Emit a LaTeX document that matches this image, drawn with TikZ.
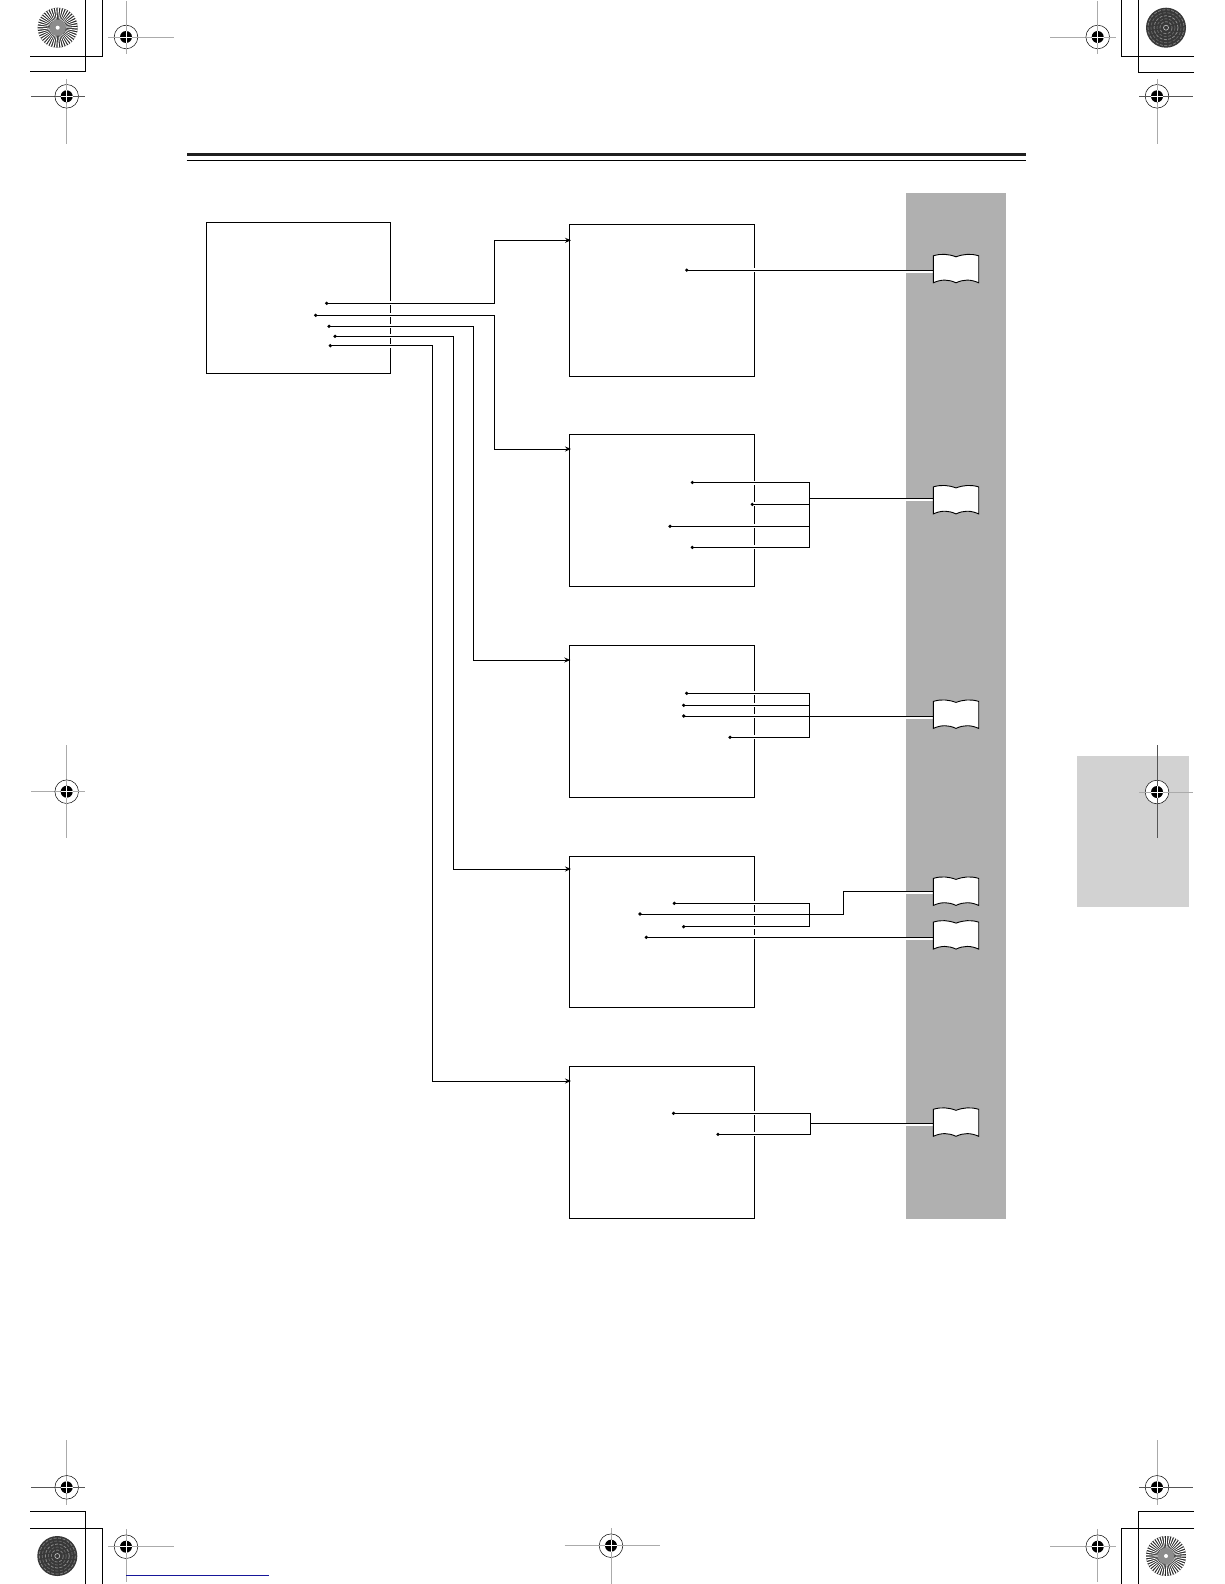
\documentclass[tikz,border=0pt]{standalone}
\usetikzlibrary{arrows.meta}
\definecolor{panelgray}{HTML}{B0B0B0}
\definecolor{tabgray}{HTML}{D2D2D2}
\definecolor{regdark}{HTML}{555555}
\definecolor{reglight}{HTML}{ABABAB}
\definecolor{linkblue}{HTML}{16169A}
\tikzset{
  bx/.style={draw=black,line width=0.9pt,fill=none,rectangle,inner sep=0pt,outer sep=0pt,anchor=north west,minimum width=#1},
  bx/.default=185pt,
  wire/.style={draw=black,line width=1pt,line join=miter},
  arrowwire/.style={wire,-{Stealth[length=6pt,width=5pt,inset=2pt]}},
  halo/.style={draw=white,line width=4pt},
  panelhalo/.style={draw=white,line width=2pt},
  dotn/.style={circle,fill=black,inner sep=0pt,minimum size=3.6pt,outer sep=0pt},
  crop/.style={draw=black,line width=1pt},
  bookp/.pic={
    \path[draw=black,fill=white,line width=0.9pt]
      (0,-13.4) .. controls (8,-15.8) and (15,-15.2) .. (22.7,-12.4)
      .. controls (30.4,-15.2) and (37.4,-15.8) .. (45.4,-13.4) -- (45.4,13.6)
      .. controls (37.4,10) and (30.4,10) .. (22.7,13.6)
      .. controls (15,10) and (8,10) .. (0,13.6) -- cycle;
  }
}
% registration mark: x y hleft hright vtop vbottom hcolor vcolor
\newcommand{\regmk}[8]{%
  \draw[#7,line width=0.9pt] (#3,#2) -- (#4,#2);
  \draw[#8,line width=0.9pt] (#1,#5) -- (#1,#6);
  \draw[black,line width=0.5pt,fill=white] (#1,#2) circle[radius=11.8];
  \draw[#7,line width=0.9pt] (#1-11.8,#2) -- (#1+11.8,#2);
  \draw[#8,line width=0.9pt] (#1,#2-11.8) -- (#1,#2+11.8);
  \fill[black] (#1,#2) circle[radius=6];
  \draw[white,line width=0.8pt] (#1-6,#2) -- (#1+6,#2) (#1,#2-6) -- (#1,#2+6);
}
\newcommand{\burst}[2]{%
  \begin{scope}[shift={(#1,#2)}]
    \fill[black!85] (0,0) circle[radius=20];
    \foreach \a in {0,8,...,352}{\fill[white] (\a:4) -- (\a-2:20) arc[start angle=\a-2,end angle=\a+2,radius=20] -- cycle;}
    \fill[black!45] (0,0) circle[radius=8];
    \fill[white] (0,0) circle[radius=2];
  \end{scope}}
\newcommand{\rings}[2]{%
  \begin{scope}[shift={(#1,#2)}]
    \fill[black!78] (0,0) circle[radius=20];
    \foreach \r/\g in {18/50,15/60,12/45,9/60,6/50}{\draw[black!\g,line width=0.8pt,dash pattern=on 3pt off 1.5pt] (0,0) circle[radius=\r];}
    \draw[white!80!black,line width=0.6pt] (0,0) circle[radius=2.5];
  \end{scope}}
\begin{document}
\begin{tikzpicture}[x=1pt,y=-1pt]
\useasboundingbox (0,0) rectangle (1224,1584);
% header rule
\fill[black!88] (186.5,153) rectangle (1026,156);
\draw[black,line width=1pt] (186.5,160.3) -- (1026,160.3);
% side tab
\fill[tabgray] (1077,756) rectangle (1188.7,906.7);
% boxes
\node[bx=184.3pt,minimum height=151pt] (m0) at (206,222.3) {};
\node[bx,minimum height=151.5pt] (b1) at (569.3,224.7) {};
\node[bx,minimum height=151.9pt] (b2) at (569.3,434.3) {};
\node[bx,minimum height=152.1pt] (b3) at (569.3,645.2) {};
\node[bx,minimum height=151pt] (b4) at (569.3,856.4) {};
\node[bx,minimum height=152pt] (b5) at (569.3,1066) {};
% connector start points and named points
\coordinate (a1) at (326.7,303.3);
\coordinate (a2) at (315.7,315.3);
\coordinate (a3) at (329,326.3);
\coordinate (a4) at (335,336.3);
\coordinate (a5) at (330.3,345.7);
\coordinate (j1) at (494.3,303.3);
\coordinate (j2) at (494.3,315.3);
\coordinate (j3) at (473.3,326.3);
\coordinate (j4) at (453.3,336.3);
\coordinate (j5) at (432.3,345.7);
\coordinate (e1) at (571,240.3);
\coordinate (e2) at (571,449);
\coordinate (e3) at (570.3,660);
\coordinate (e4) at (571,869);
\coordinate (e5) at (571,1081);
\coordinate (c1) at (686.7,270.1);
\coordinate (c2a) at (692.3,482.5);
\coordinate (c2b) at (752.3,504.4);
\coordinate (c2c) at (670,526.3);
\coordinate (c2d) at (692.3,547.4);
\coordinate (c3a) at (686.7,693.3);
\coordinate (c3b) at (683.7,705.3);
\coordinate (c3c) at (683.7,716);
\coordinate (c3d) at (730,737.3);
\coordinate (c4a) at (674.3,903.3);
\coordinate (c4b) at (640,914);
\coordinate (c4c) at (683.7,926.7);
\coordinate (c4d) at (646.3,937.3);
\coordinate (c5a) at (673.6,1113.3);
\coordinate (c5b) at (718,1134.3);
\coordinate (k1) at (933.3,270.1);
\coordinate (k2) at (933.3,498.3);
\coordinate (k3) at (933.3,716);
\coordinate (k4) at (933.3,891.7);
\coordinate (k5) at (933.3,937.3);
\coordinate (k6) at (933.3,1123.3);
\coordinate (s2a) at (809.3,482.5);
\coordinate (s2b) at (809.3,504.4);
\coordinate (s2c) at (809.3,526.3);
\coordinate (s2d) at (809.3,547.4);
\coordinate (s2) at (809.3,498.3);
\coordinate (s3a) at (809.3,693.3);
\coordinate (s3b) at (809.3,705.3);
\coordinate (s3d) at (809.3,737.3);
\coordinate (s4a) at (809.3,903.3);
\coordinate (s4c) at (809.3,926.7);
\coordinate (t4) at (843.3,914);
\coordinate (t4u) at (843.3,891.7);
\coordinate (s5a) at (810.7,1113.3);
\coordinate (s5b) at (810.7,1134.3);
\coordinate (s5) at (810.7,1123.3);
% white gaps where wires cross the box edges
\draw[halo] (a1) -- (j1);
\draw[halo] (a2) -- (j2);
\draw[halo] (a3) -- (j3);
\draw[halo] (a4) -- (j4);
\draw[halo] (a5) -- (j5);
\draw[halo] (c1) -- (k1);
\draw[halo] (c2a) -- (s2a);
\draw[halo] (c2b) -- (s2b);
\draw[halo] (c2c) -- (s2c);
\draw[halo] (c2d) -- (s2d);
\draw[halo] (c3a) -- (s3a);
\draw[halo] (c3b) -- (s3b);
\draw[halo] (c3c) -- (k3);
\draw[halo] (c3d) -- (s3d);
\draw[halo] (c4a) -- (s4a);
\draw[halo] (c4b) -- (t4);
\draw[halo] (c4c) -- (s4c);
\draw[halo] (c4d) -- (k5);
\draw[halo] (c5a) -- (s5a);
\draw[halo] (c5b) -- (s5b);
% grey panel
\fill[panelgray] (906,193) rectangle (1006,1218.5);
\foreach \ly in {270.1,498.3,716,891.7,937.3,1123.3}{\draw[panelhalo] (906,\ly+1.6) -- (934,\ly+1.6);}
% input connectors
\draw[arrowwire] (a1) -- (j1) |- (e1);
\draw[arrowwire] (a2) -- (j2) |- (e2);
\draw[arrowwire] (a3) -- (j3) |- (e3);
\draw[arrowwire] (a4) -- (j4) |- (e4);
\draw[arrowwire] (a5) -- (j5) |- (e5);
% output connectors
\draw[wire] (c1) -- (k1);
\draw[wire] (c2a) -- (s2a) -- (s2d) -- (c2d);
\draw[wire] (c2b) -- (s2b);
\draw[wire] (c2c) -- (s2c);
\draw[wire] (s2) -- (k2);
\draw[wire] (c3a) -- (s3a) -- (s3d) -- (c3d);
\draw[wire] (c3b) -- (s3b);
\draw[wire] (c3c) -- (k3);
\draw[wire] (c4a) -- (s4a) -- (s4c) -- (c4c);
\draw[wire] (c4b) -- (t4) -- (t4u) -- (k4);
\draw[wire] (c4d) -- (k5);
\draw[wire] (c5a) -- (s5a) -- (s5b) -- (c5b);
\draw[wire] (s5) -- (k6);
% start dots
\foreach \p in {a1,a2,a3,a4,a5,c1,c2a,c2b,c2c,c2d,c3a,c3b,c3c,c3d,c4a,c4b,c4c,c4d,c5a,c5b}{\node[dotn] (dot-\p) at (\p) {};}
% book symbols
\pic at (933.3,269.2) {bookp};
\pic at (933.3,500.3) {bookp};
\pic at (933.3,714.8) {bookp};
\pic at (933.3,891.8) {bookp};
\pic at (933.3,935.5) {bookp};
\pic at (933.3,1122.7) {bookp};
% crop marks
\draw[crop] (30,72) -- (85.3,72) -- (85.3,0);
\draw[crop] (30,56.3) -- (102.3,56.3) -- (102.3,0);
\draw[crop] (1194,56.3) -- (1121.7,56.3) -- (1121.7,0);
\draw[crop] (1194,72.3) -- (1138.7,72.3) -- (1138.7,0);
\draw[crop] (30,1511.3) -- (85.3,1511.3) -- (85.3,1584);
\draw[crop] (30,1528.3) -- (102.3,1528.3) -- (102.3,1584);
\draw[crop] (1194,1511.3) -- (1138.7,1511.3) -- (1138.7,1584);
\draw[crop] (1194,1528.3) -- (1121.7,1528.3) -- (1121.7,1584);
% discs
\burst{57.7}{27.7}
\rings{1166}{27.7}
\rings{57.3}{1556}
\burst{1166}{1556}
% registration marks
\regmk{126}{37}{108}{174}{1}{54}{reglight}{reglight}
\regmk{66.7}{96.3}{31}{85}{79}{144}{regdark}{reglight}
\regmk{1097.7}{37}{1050}{1116}{1}{54}{reglight}{reglight}
\regmk{1157}{96.3}{1139}{1193}{79}{144}{regdark}{reglight}
\regmk{66.7}{791.7}{31}{85}{745}{838}{reglight}{reglight}
\regmk{1157}{792}{1139}{1193}{745}{838}{reglight}{regdark}
\regmk{66.7}{1487.3}{31}{85}{1440}{1505}{regdark}{reglight}
\regmk{1157}{1487.3}{1139}{1193}{1440}{1505}{regdark}{reglight}
\regmk{126}{1546.7}{108}{174}{1529}{1582}{reglight}{reglight}
\regmk{611}{1545.7}{564.5}{659.5}{1528}{1583.5}{reglight}{reglight}
\regmk{1097.7}{1546.7}{1050}{1116}{1529}{1582}{reglight}{reglight}
% footer link rule
\draw[linkblue,line width=0.9pt] (126,1575.3) -- (268.7,1575.3);
\end{tikzpicture}
\end{document}
